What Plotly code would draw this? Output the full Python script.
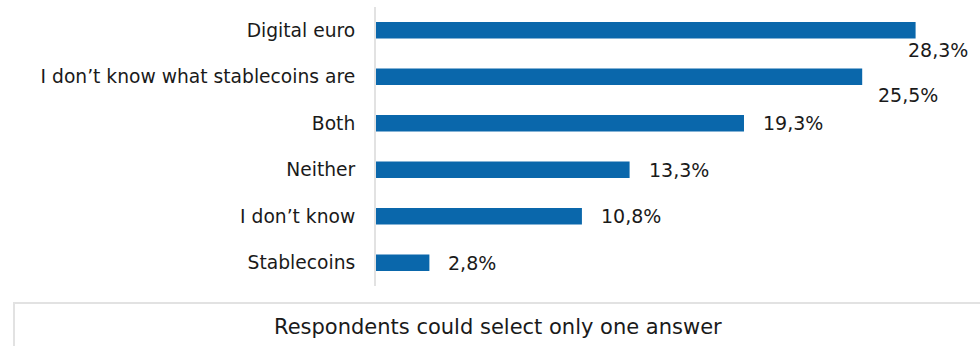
import plotly.graph_objects as go

# Survey answers, listed bottom to top as drawn
categories = ["Stablecoins", "I don\u2019t know", "Neither", "Both",
              "I don\u2019t know what stablecoins are", "Digital euro"]
shares = [2.8, 10.8, 13.3, 19.3, 25.5, 28.3]
value_labels = ["2,8%", "10,8%", "13,3%", "19,3%", "25,5%", "28,3%"]
note_text = "Respondents could select only one answer"

FONT = "DejaVu Sans"
BLUE = "#0a67ab"
GREY_LINE = "#e2e2e2"

W, H = 980, 346
L, R, T, B = 376, 32, 7, 60
plot_w = W - L - R
plot_h = H - T - B

fig = go.Figure(go.Bar(
    x=shares, y=categories, orientation="h",
    marker=dict(color=BLUE, line=dict(width=0)),
    width=0.35, hoverinfo="skip",
))

# Value labels: next to the bar end, dropped below the bar for the two longest
offsets = {"28,3%": (-10, -20), "25,5%": (14, -18)}
for cat, val, lab in zip(categories, shares, value_labels):
    dx, dy = offsets.get(lab, (17, 0))
    fig.add_annotation(x=val, y=cat, text=lab, showarrow=False,
                       xanchor="left", yanchor="middle",
                       xshift=dx, yshift=dy,
                       font=dict(family=FONT, size=19, color="#1a1a1a"))

# Note box underneath the chart
def px_x(p):
    return (p - L) / plot_w

def px_y(p):
    return (H - B - p) / plot_h

fig.add_shape(type="rect", xref="paper", yref="paper",
              x0=px_x(14), x1=px_x(1000), y0=px_y(303), y1=px_y(360),
              line=dict(color=GREY_LINE, width=2), fillcolor="white")
fig.add_annotation(xref="paper", yref="paper", x=px_x(498), y=px_y(327),
                   text=note_text, showarrow=False,
                   xanchor="center", yanchor="middle",
                   font=dict(family=FONT, size=21, color="#1a1a1a"))

fig.update_layout(
    width=W, height=H,
    margin=dict(l=L, r=R, t=T, b=B),
    paper_bgcolor="white", plot_bgcolor="white",
    showlegend=False,
    font=dict(family=FONT, size=18, color="#1a1a1a"),
    xaxis=dict(range=[0, 30], showgrid=False, zeroline=False,
               showticklabels=False, showline=False, fixedrange=True),
    yaxis=dict(showgrid=False, zeroline=False, showline=True,
               linecolor=GREY_LINE, linewidth=2,
               ticks="", ticklabelstandoff=15,
               tickfont=dict(family=FONT, size=18.7, color="#1a1a1a"),
               range=[-0.5, 5.5], fixedrange=True),
)

fig.write_html("out.html")
